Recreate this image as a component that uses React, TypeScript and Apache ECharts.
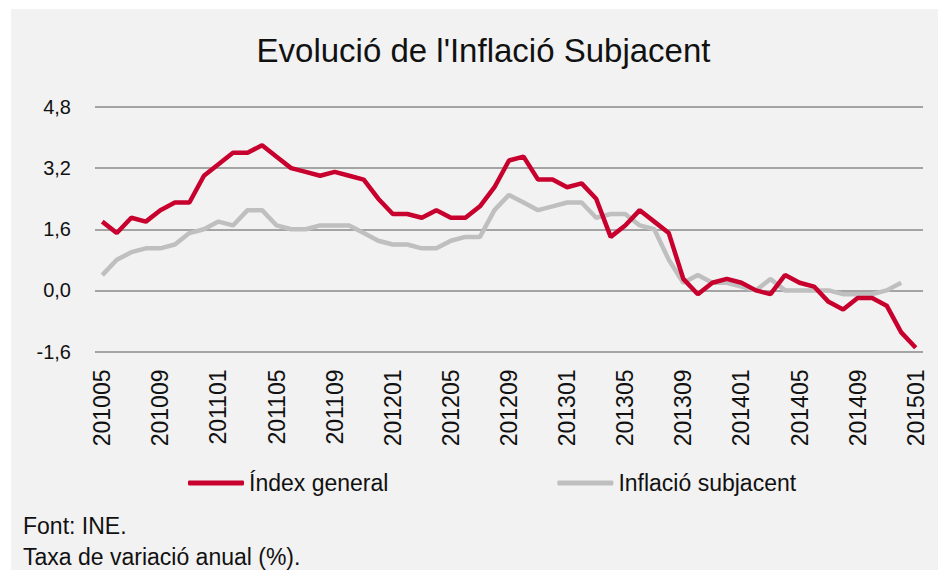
import React, { useEffect, useRef } from "react";
import * as echarts from "echarts";

const categories = [
  "201005","201006","201007","201008","201009","201010","201011","201012",
  "201101","201102","201103","201104","201105","201106","201107","201108","201109","201110","201111","201112",
  "201201","201202","201203","201204","201205","201206","201207","201208","201209","201210","201211","201212",
  "201301","201302","201303","201304","201305","201306","201307","201308","201309","201310","201311","201312",
  "201401","201402","201403","201404","201405","201406","201407","201408","201409","201410","201411","201412",
  "201501",
];

const indexGeneral = [
  1.8, 1.5, 1.9, 1.8, 2.1, 2.3, 2.3, 3.0,
  3.3, 3.6, 3.6, 3.8, 3.5, 3.2, 3.1, 3.0, 3.1, 3.0, 2.9, 2.4,
  2.0, 2.0, 1.9, 2.1, 1.9, 1.9, 2.2, 2.7, 3.4, 3.5, 2.9, 2.9,
  2.7, 2.8, 2.4, 1.4, 1.7, 2.1, 1.8, 1.5, 0.3, -0.1, 0.2, 0.3,
  0.2, 0.0, -0.1, 0.4, 0.2, 0.1, -0.3, -0.5, -0.2, -0.2, -0.4, -1.1,
  -1.5,
];

const inflacioSubjacent = [
  0.4, 0.8, 1.0, 1.1, 1.1, 1.2, 1.5, 1.6,
  1.8, 1.7, 2.1, 2.1, 1.7, 1.6, 1.6, 1.7, 1.7, 1.7, 1.5, 1.3,
  1.2, 1.2, 1.1, 1.1, 1.3, 1.4, 1.4, 2.1, 2.5, 2.3, 2.1, 2.2,
  2.3, 2.3, 1.9, 2.0, 2.0, 1.7, 1.6, 0.8, 0.2, 0.4, 0.2, 0.2,
  0.1, 0.0, 0.3, 0.0, 0.0, 0.0, 0.0, -0.1, -0.1, -0.1, 0.0, 0.2,
  null,
];

const seriesNames = ["Índex general", "Inflació subjacent"];
const titleText = "Evolució de l'Inflació Subjacent";
const footnotes = ["Font: INE.", "Taxa de variació anual (%)."];
const yMin = -1.6;
const yMax = 4.8;
const yInterval = 1.6;

const FONT = "'Liberation Sans', Arial, sans-serif";

export default function App() {
  const ref = useRef<HTMLDivElement>(null);

  useEffect(() => {
    if (!ref.current) return;
    const chart = echarts.init(ref.current, undefined, { renderer: "svg" });
    chart.setOption({
      animation: false,
      textStyle: { fontFamily: FONT },
      grid: { left: 84, right: 15, top: 98, bottom: 218.5, containLabel: false },
      legend: {
        data: seriesNames,
        left: 172,
        top: 456,
        itemWidth: 56,
        itemHeight: 5,
        itemGap: 169,
        icon: "roundRect",
        textStyle: { fontSize: 23, color: "#111", fontFamily: FONT, lineHeight: 26 },
      },
      xAxis: {
        type: "category",
        data: categories,
        boundaryGap: true,
        axisLine: { show: false },
        axisTick: { show: false },
        axisLabel: {
          interval: 3,
          rotate: 90,
          margin: 18,
          fontSize: 23,
          color: "#111",
          fontFamily: FONT,
        },
      },
      yAxis: {
        type: "value",
        min: yMin,
        max: yMax,
        interval: yInterval,
        axisLine: { show: false },
        axisTick: { show: false },
        axisLabel: {
          margin: 24,
          fontSize: 20,
          color: "#111",
          fontFamily: FONT,
          formatter: (v: number) => v.toFixed(1).replace(".", ","),
        },
        splitLine: { show: true, lineStyle: { color: "#8a8a8a", width: 1.5 } },
      },
      series: [
        {
          name: seriesNames[0],
          type: "line",
          data: indexGeneral,
          showSymbol: false,
          symbol: "none",
          z: 3,
          itemStyle: { color: "#c8002e" },
          lineStyle: { color: "#c8002e", width: 4.5 },
        },
        {
          name: seriesNames[1],
          type: "line",
          data: inflacioSubjacent,
          showSymbol: false,
          symbol: "none",
          z: 2,
          itemStyle: { color: "#bfbfbf" },
          lineStyle: { color: "#bfbfbf", width: 4.5 },
        },
      ],
      graphic: [
        {
          type: "text",
          x: 472.5,
          y: 41,
          style: {
            text: titleText,
            fontSize: 33,
            fontFamily: FONT,
            fill: "#111",
            textAlign: "center",
            textVerticalAlign: "middle",
          },
        },
        {
          type: "text",
          x: 12,
          y: 517,
          style: {
            text: footnotes[0],
            fontSize: 23,
            fontFamily: FONT,
            fill: "#111",
            textAlign: "left",
            textVerticalAlign: "middle",
          },
        },
        {
          type: "text",
          x: 12,
          y: 548,
          style: {
            text: footnotes[1],
            fontSize: 23,
            fontFamily: FONT,
            fill: "#111",
            textAlign: "left",
            textVerticalAlign: "middle",
          },
        },
      ],
    });
    return () => chart.dispose();
  }, []);

  return (
    <div style={{ position: "fixed", left: 0, top: 0, width: 938, height: 570, background: "#ffffff" }}>
      <div style={{ position: "absolute", left: 11, top: 9, width: 927, height: 561, background: "#f2f2f2" }}>
        <div ref={ref} style={{ width: 927, height: 561 }} />
      </div>
    </div>
  );
}
